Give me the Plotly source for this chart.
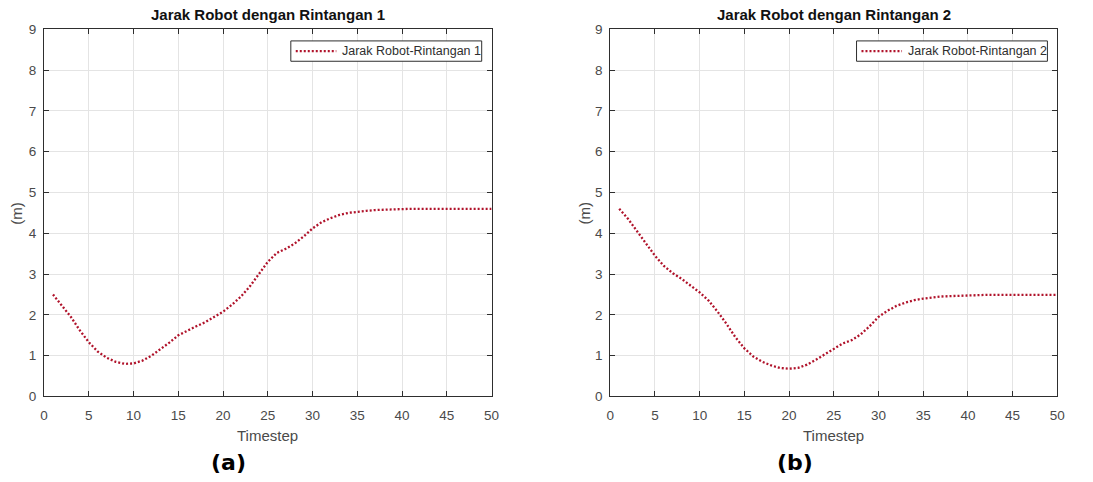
import plotly.graph_objects as go

timestep = list(range(1, 51))
jarak_1 = [2.50, 2.22, 1.95, 1.62, 1.33, 1.10, 0.95, 0.85, 0.80, 0.81,
           0.88, 1.00, 1.15, 1.32, 1.50, 1.62, 1.72, 1.82, 1.95, 2.08,
           2.25, 2.45, 2.70, 3.00, 3.30, 3.52, 3.62, 3.75, 3.92, 4.12,
           4.27, 4.37, 4.45, 4.50, 4.53, 4.55, 4.57, 4.58, 4.59, 4.59,
           4.60, 4.60, 4.60, 4.60, 4.60, 4.60, 4.60, 4.60, 4.60, 4.60]
jarak_2 = [4.60, 4.35, 4.05, 3.75, 3.45, 3.20, 3.02, 2.88, 2.72, 2.55,
           2.35, 2.08, 1.78, 1.45, 1.18, 0.98, 0.85, 0.76, 0.70, 0.68,
           0.70, 0.78, 0.90, 1.03, 1.18, 1.30, 1.38, 1.52, 1.72, 1.95,
           2.10, 2.22, 2.30, 2.36, 2.40, 2.43, 2.45, 2.46, 2.47, 2.48,
           2.48, 2.49, 2.49, 2.49, 2.49, 2.49, 2.49, 2.49, 2.49, 2.49]
x_ticks = [0, 5, 10, 15, 20, 25, 30, 35, 40, 45, 50]
y_ticks = [0, 1, 2, 3, 4, 5, 6, 7, 8, 9]
titles = ["Jarak Robot dengan Rintangan 1", "Jarak Robot dengan Rintangan 2"]
names = ["Jarak Robot-Rintangan 1", "Jarak Robot-Rintangan 2"]
panel_labels = ["(a)", "(b)"]

W, H = 1093, 482
LINE_COLOR = "#b0132b"
AXIS_COLOR = "#2e2e2e"
TICK_COLOR = "#4a4a4a"
GRID_COLOR = "#e4e4e4"
FONT = "Liberation Sans, Arial, sans-serif"
DOT = "2px,2px"

fig = go.Figure()
fig.add_trace(go.Scatter(x=timestep, y=jarak_1, mode="lines", name=names[0],
                         line=dict(color=LINE_COLOR, width=2.3, dash=DOT),
                         xaxis="x", yaxis="y", showlegend=False))
fig.add_trace(go.Scatter(x=timestep, y=jarak_2, mode="lines", name=names[1],
                         line=dict(color=LINE_COLOR, width=2.3, dash=DOT),
                         xaxis="x2", yaxis="y2", showlegend=False))

# pixel geometry
L1, R1 = 40.5, 493
L2, R2 = 613, 1065
TOP, BOT = 23, 402


def px(x):
    return x / W


def py(y):
    return 1 - y / H


common_x = dict(range=[0, 50], tickvals=x_ticks, showgrid=True, gridcolor=GRID_COLOR,
                gridwidth=1, zeroline=False, showline=True, linecolor=AXIS_COLOR,
                linewidth=1, mirror="ticks", ticks="inside", ticklen=5,
                tickcolor=AXIS_COLOR, ticklabelstandoff=6,
                tickfont=dict(family=FONT, size=13.5, color=TICK_COLOR),
                fixedrange=True)
common_y = dict(range=[0, 9], tickvals=y_ticks, showgrid=True, gridcolor=GRID_COLOR,
                gridwidth=1, zeroline=False, showline=True, linecolor=AXIS_COLOR,
                linewidth=1, mirror="ticks", ticks="inside", ticklen=5,
                tickcolor=AXIS_COLOR, ticklabelstandoff=4,
                tickfont=dict(family=FONT, size=13.5, color=TICK_COLOR),
                fixedrange=True)

annotations = []
shapes = []
panels = [
    ((L1, R1), titles[0], names[0], panel_labels[0], 227, 13),
    ((L2, R2), titles[1], names[1], panel_labels[1], 800, 587),
]
for (L, R), title, name, plabel, lab_x, m_x in panels:
    cx = (L + R) / 2
    annotations.append(dict(text="<b>" + title + "</b>", x=px(cx), y=py(8),
                            xref="paper", yref="paper", showarrow=False,
                            xanchor="center", yanchor="middle",
                            font=dict(family=FONT, size=15, color="#111111")))
    annotations.append(dict(text="Timestep", x=px(cx), y=py(442),
                            xref="paper", yref="paper", showarrow=False,
                            xanchor="center", yanchor="middle",
                            font=dict(family=FONT, size=15, color=TICK_COLOR)))
    annotations.append(dict(text="(m)", x=px(m_x), y=py((TOP + BOT) / 2),
                            xref="paper", yref="paper", showarrow=False, textangle=-90,
                            xanchor="center", yanchor="middle",
                            font=dict(family=FONT, size=15, color=TICK_COLOR)))
    annotations.append(dict(text="<b>" + plabel + "</b>", x=px(lab_x), y=py(470),
                            xref="paper", yref="paper", showarrow=False,
                            xanchor="center", yanchor="middle",
                            font=dict(family="DejaVu Sans, Verdana, sans-serif", size=22,
                                      color="#000000")))
    # legend box, anchored 10px left of the plot's right edge
    bx1 = R - 10
    bx0 = bx1 - 193
    shapes.append(dict(type="rect", xref="paper", yref="paper",
                       x0=px(bx0), x1=px(bx1), y0=py(56), y1=py(35),
                       line=dict(color=AXIS_COLOR, width=1), fillcolor="white", layer="above"))
    shapes.append(dict(type="line", xref="paper", yref="paper",
                       x0=px(bx0 + 5), x1=px(bx0 + 46), y0=py(45.5), y1=py(45.5),
                       line=dict(color=LINE_COLOR, width=2.3, dash=DOT), layer="above"))
    annotations.append(dict(text=name, x=px(bx0 + 50), y=py(45.5),
                            xref="paper", yref="paper", showarrow=False,
                            xanchor="left", yanchor="middle",
                            font=dict(family=FONT, size=12.5, color=AXIS_COLOR)))

fig.update_layout(
    width=W, height=H,
    margin=dict(l=0, r=0, t=0, b=0),
    paper_bgcolor="white", plot_bgcolor="white",
    xaxis=dict(domain=[px(L1), px(R1)], anchor="y", **common_x),
    yaxis=dict(domain=[py(BOT), py(TOP)], anchor="x", **common_y),
    xaxis2=dict(domain=[px(L2), px(R2)], anchor="y2", **common_x),
    yaxis2=dict(domain=[py(BOT), py(TOP)], anchor="x2", **common_y),
    annotations=annotations,
    shapes=shapes,
    showlegend=False,
)

fig.write_html("out.html")
